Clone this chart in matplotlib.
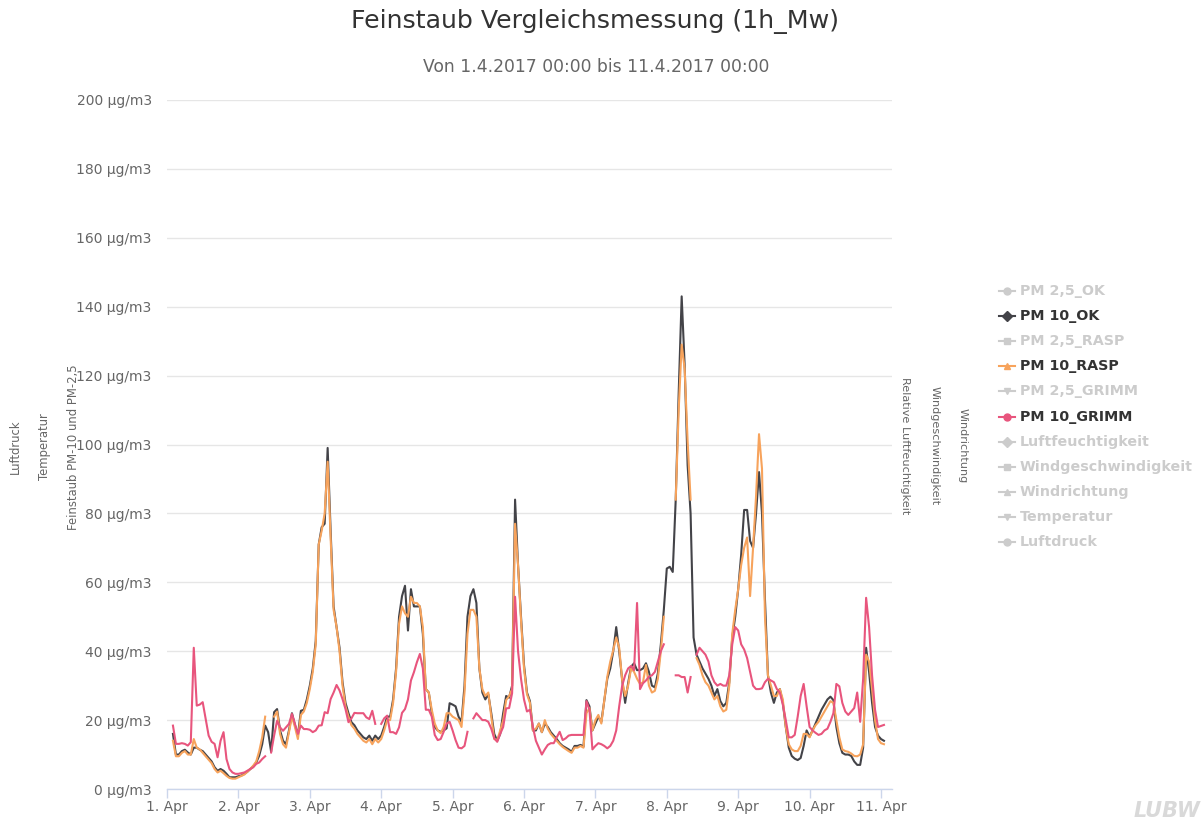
import numpy as np
import pandas as pd
import matplotlib
matplotlib.use("Agg")
import matplotlib.pyplot as plt
from matplotlib.lines import Line2D

nan = np.nan

# ---------------- data (hourly, 1.4.2017 00:00 onwards) ----------------
start = "2017-04-01 00:00"

pm10_ok = [
    nan, nan, 16, 10, 10, 11, 11.4, 10.6, 10, 12, 12, 11.4, 11, 10, 9, 8, 6.3, 5.3, 5.8, 5.3, 4.4, 3.4, 3.4, 3.4,
    3.7, 3.9, 4.4, 5, 5.8, 6.6, 7.7, 9.7, 13, 18.4, 16.5, 10.8, 22.3, 23.2, 17, 14, 13, 17, 22, 18.6, 15.5, 22.7, 23, 26,
    30, 35, 43, 71, 76, 77, 99, 75, 53, 47, 41, 31, 25, 22, 19.4, 18.5, 17, 16, 15, 14.5, 15.5, 14, 15.5, 14.5,
    15.5, 18, 21, 21, 26, 35, 50, 56, 59, 46, 58, 53, 53, 53, 45, 29, 28, 22, 18, 17, 16.6, 17, 17.6, 24.9,
    24.5, 24, 21, 19.5, 30, 50, 56, 58, 54, 35, 28, 26, 27.5, 22, 16, 14, 16, 22, 27, 26.5, 30, 84, 65, 50,
    36, 28, 25.5, 17, 17, 19, 16.5, 19, 18, 16.5, 15.5, 14.5, 13.3, 12.5, 12, 11.5, 10.8, 12.5, 12.5, 12.8, 12.3, 25.8, 24, 17,
    19, 21, 19.5, 25.8, 32, 35, 40, 47, 40, 31.6, 25, 30.7, 35.5, 36.5, 34.5, 34.5, 35, 36.5, 34, 30, 29.5, 33.6, 42, 52,
    64, 64.5, 63, 84, 115, 143, 123, 94, 80, 44, 39, 37, 35, 33.5, 32, 30, 27, 29, 25.5, 24, 25, 31, 44, 50,
    58, 68, 81, 81, 72, 70, 80, 92, 80, 55, 33, 28, 25, 28, 29, 25, 18, 12, 9.6, 8.8, 8.4, 9, 12.5, 17,
    15.2, 17, 19, 21, 23, 24.5, 26, 26.8, 25.8, 18, 13.3, 10.5, 10, 10, 9.6, 8, 7, 7, 12, 41, 34, 25, 18, 15.5,
    14.5, 14,
]

pm10_rasp = [
    nan, nan, 14, 9.5, 9.5, 10.5, 11, 10, 10, 14.5, 12, 11.5, 10.5, 9.5, 8.5, 7.5, 5.8, 4.8, 5.3, 4.6, 3.8, 3.2, 3, 3,
    3.4, 3.8, 4.2, 5, 5.8, 6.8, 8, 11, 15, 21, nan, nan, 21, 22.5, 16, 13, 12, 16.5, 21, 18, 14.5, 21.5, 22.5, 25,
    29, 34, 42, 71, 75, 80, 95, 73, 52, 47, 40, 30, 24, 21, 18.5, 17.5, 16, 15, 14, 13.5, 14.5, 13, 14.5, 13.5,
    14.5, 17, 20, 20, 25, 34, 48, 53, 51, 50, 55.8, 54, 54, 53, 47, 29, 28, 23, 19, 17, 16.2, 18, 22, 22,
    21, 20.5, 20, 18, 28, 45, 52, 52, 50, 35, 29, 27, 28, 21, 14.5, 14.2, 17, 20, 25.8, 27, 29, 77, 65, 49,
    35, 27.5, 25, 17, 17.5, 19, 16.5, 20, 17.5, 16, 15, 14, 13, 12.2, 11.6, 11, 10.5, 12, 12, 12.5, 12, 22, 23.5, 17,
    20, 21.5, 19, 25.8, 32.6, 37, 40.3, 44, 41, 31.6, 27, 30, 35, 34, 32, 30.5, 31, 36, 30, 28, 28.5, 32, 40, 50,
    nan, nan, nan, 84, 110, 129, 122, 101, 84, nan, 38, 36, 33, 31, 30, 28, 26, 27, 24, 22.5, 23, 30, 45, 52,
    58, 65, 70, 73, 56, 70, 85, 103, 93, 50, 33, 30, 27, 27, 29, 26, 18, 13, 11.5, 11, 11, 12.5, 16, 16,
    15, 17, 18.5, 19.5, 21, 22.5, 24, 25.5, 25, 20, 15, 11.5, 11, 10.8, 10.3, 9.6, 9.5, 10, 13, 39, 37, 29, 20, 14.5,
    13.3, 13,
]

pm10_grimm = [
    nan, nan, 18.4, 13.1, 13.1, 13.3, 13.1, 12.6, 13.6, 41, 24.2, 24.5, 25.2, 20.3, 15.5, 13.7, 13.1, 9.2, 14, 16.5, 8.7, 5.8, 4.8, 4.4,
    4.4, 4.6, 4.8, 5.3, 5.8, 6.3, 7.3, 7.7, 8.7, 9.5, nan, 10.6, 15.5, 19.8, 17.9, 16.9, 17.9, 18.9, 21.8, 18.9, 16, 18.4, 17.4, 17.4,
    17.2, 16.5, 17, 18.4, 18.5, 22.3, 22, 26.1, 28, 30.2, 28.6, 26.1, 23.2, 19.4, 20.5, 22.1, 22, 22, 22, 20.8, 20.3, 22.7, 18.9, nan,
    18.9, 20.5, 21.3, 16.5, 16.5, 16, 17.9, 22.1, 23.2, 26, 31.5, 33.9, 36.8, 39.2, 35, 23, 23, 21, 15.7, 14.2, 14.5, 16.6, 19, 19.5,
    17, 14.2, 12, 11.8, 12.5, 16.6, nan, 20.5, 22, 21, 20, 20, 19.5, 17.5, 14.7, 13.7, 16, 18, 23.4, 23.5, 27.8, 55.8, 40, 32,
    26, 22.5, 23, 18, 14, 12, 10, 11.5, 12.8, 13.3, 13.3, 15, 16.6, 14.2, 14.7, 15.5, 15.7, 15.7, 15.7, 15.7, 15.7, 25.5, 23, 11.5,
    12.5, 13.3, 13, 12.5, 11.8, 12.5, 14, 17, 24, 30, 33, 35, 35.7, 34.5, 54, 29, 30.7, 31.5, 32.6, 33, 34, 37, 40, 42,
    nan, nan, nan, 33, 33, 32.5, 32.5, 28, 32.5, nan, 39, 41, 40, 39, 37, 33, 31, 30, 30.5, 30, 30, 33, 42, 47,
    46, 42, 40.5, 38, 34, 30, 29, 29, 29.2, 31, 32, 31.5, 31, 29, 28, 24.5, 20, 15, 15, 15.7, 21, 27, 30.5, 24,
    18, 17, 16.3, 15.7, 16, 17, 17.5, 19.5, 22, 30.5, 29.8, 25, 22.5, 21.5, 22.5, 23.5, 28, 19.5, 32, 55.5, 47, 33, 23, 18,
    18.3, 18.6,
]

day_ticks = pd.date_range("2017-04-01", "2017-04-11", freq="D")
day_labels = ["1. Apr", "2. Apr", "3. Apr", "4. Apr", "5. Apr", "6. Apr",
              "7. Apr", "8. Apr", "9. Apr", "10. Apr", "11. Apr"]
y_ticks = list(range(0, 201, 20))
y_labels = [f"{v} µg/m3" for v in y_ticks]

legend_names = ["PM 2,5_OK", "PM 10_OK", "PM 2,5_RASP", "PM 10_RASP", "PM 2,5_GRIMM",
                "PM 10_GRIMM", "Luftfeuchtigkeit", "Windgeschwindigkeit", "Windrichtung",
                "Temperatur", "Luftdruck"]
legend_markers = ["o", "D", "s", "^", "v", "o", "D", "s", "^", "v", "o"]
legend_active = {"PM 10_OK": "#434348", "PM 10_RASP": "#f7a35c", "PM 10_GRIMM": "#e8557d"}

title = "Feinstaub Vergleichsmessung (1h_Mw)"
subtitle = "Von 1.4.2017 00:00 bis 11.4.2017 00:00"

# ---------------- figure ----------------
plt.rcParams["font.family"] = ["DejaVu Sans"]
W, H = 1204, 823
fig = plt.figure(figsize=(W / 100, H / 100), dpi=100)
fig.patch.set_facecolor("white")

def fx(px):
    return px / W

def fy(py):
    return 1 - py / H

ax = fig.add_axes([fx(167), fy(789), fx(892) - fx(167), fy(100) - fy(789)])

times = pd.date_range(start, periods=len(pm10_ok), freq="h")
ax.plot(times, pm10_ok, color="#434348", lw=1.5, zorder=3, solid_joinstyle="round")
ax.plot(times, pm10_rasp, color="#f7a35c", lw=1.5, zorder=4, solid_joinstyle="round")
ax.plot(times, pm10_grimm, color="#e8557d", lw=1.5, zorder=5, solid_joinstyle="round")

t0 = pd.Timestamp("2017-04-01 00:00")
ax.set_xlim(t0, t0 + pd.Timedelta(hours=243.7))
ax.set_ylim(0, 200)

ax.set_yticks(y_ticks)
ax.set_yticklabels(y_labels)
ax.set_xticks(day_ticks)
ax.set_xticklabels(day_labels)

ax.grid(axis="y", color="#e6e6e6", lw=1)
ax.set_axisbelow(True)
for s in ["top", "right", "left"]:
    ax.spines[s].set_visible(False)
ax.spines["bottom"].set_color("#ccd6eb")
ax.spines["bottom"].set_linewidth(1)
ax.tick_params(axis="y", length=0, pad=11, labelsize=10, labelcolor="#666666")
ax.tick_params(axis="x", length=6.5, width=1, color="#ccd6eb", pad=1.5,
               labelsize=10, labelcolor="#666666")

# titles
fig.text(fx(595), fy(22), title, ha="center", va="center", fontsize=18.2, color="#333333")
fig.text(fx(596), fy(67), subtitle, ha="center", va="center", fontsize=12.3, color="#666666")

# axis titles (left and right)
for x, txt in [(73, "Feinstaub PM-10 und PM-2,5"), (44, "Temperatur"), (15, "Luftdruck")]:
    fig.text(fx(x), fy(447), txt, rotation=90, ha="center", va="center",
             fontsize=8.4, color="#666666")
for x, txt in [(905, "Relative Luftfeuchtigkeit"), (935, "Windgeschwindigkeit"), (963, "Windrichtung")]:
    fig.text(fx(x), fy(446), txt, rotation=270, ha="center", va="center",
             fontsize=8.1, color="#666666")

# legend
for i, (name, mk) in enumerate(zip(legend_names, legend_markers)):
    py = 291 + i * 25.1
    col = legend_active.get(name, "#cccccc")
    tcol = "#333333" if name in legend_active else "#cccccc"
    fig.add_artist(Line2D([fx(999), fx(1015)], [fy(py), fy(py)], color=col, lw=1.5,
                          transform=fig.transFigure))
    fig.add_artist(Line2D([fx(1007)], [fy(py)], color=col, marker=mk, markersize=5,
                          lw=0, transform=fig.transFigure))
    fig.text(fx(1020), fy(py), name, ha="left", va="center", fontsize=10.3,
             fontweight="bold", color=tcol)

# logo
fig.text(fx(1167), fy(811), "LUBW", ha="center", va="center", fontsize=15,
         fontweight="bold", fontstyle="italic", color="#d9d9d9")

fig.savefig("out.png", dpi=100, facecolor="white")
